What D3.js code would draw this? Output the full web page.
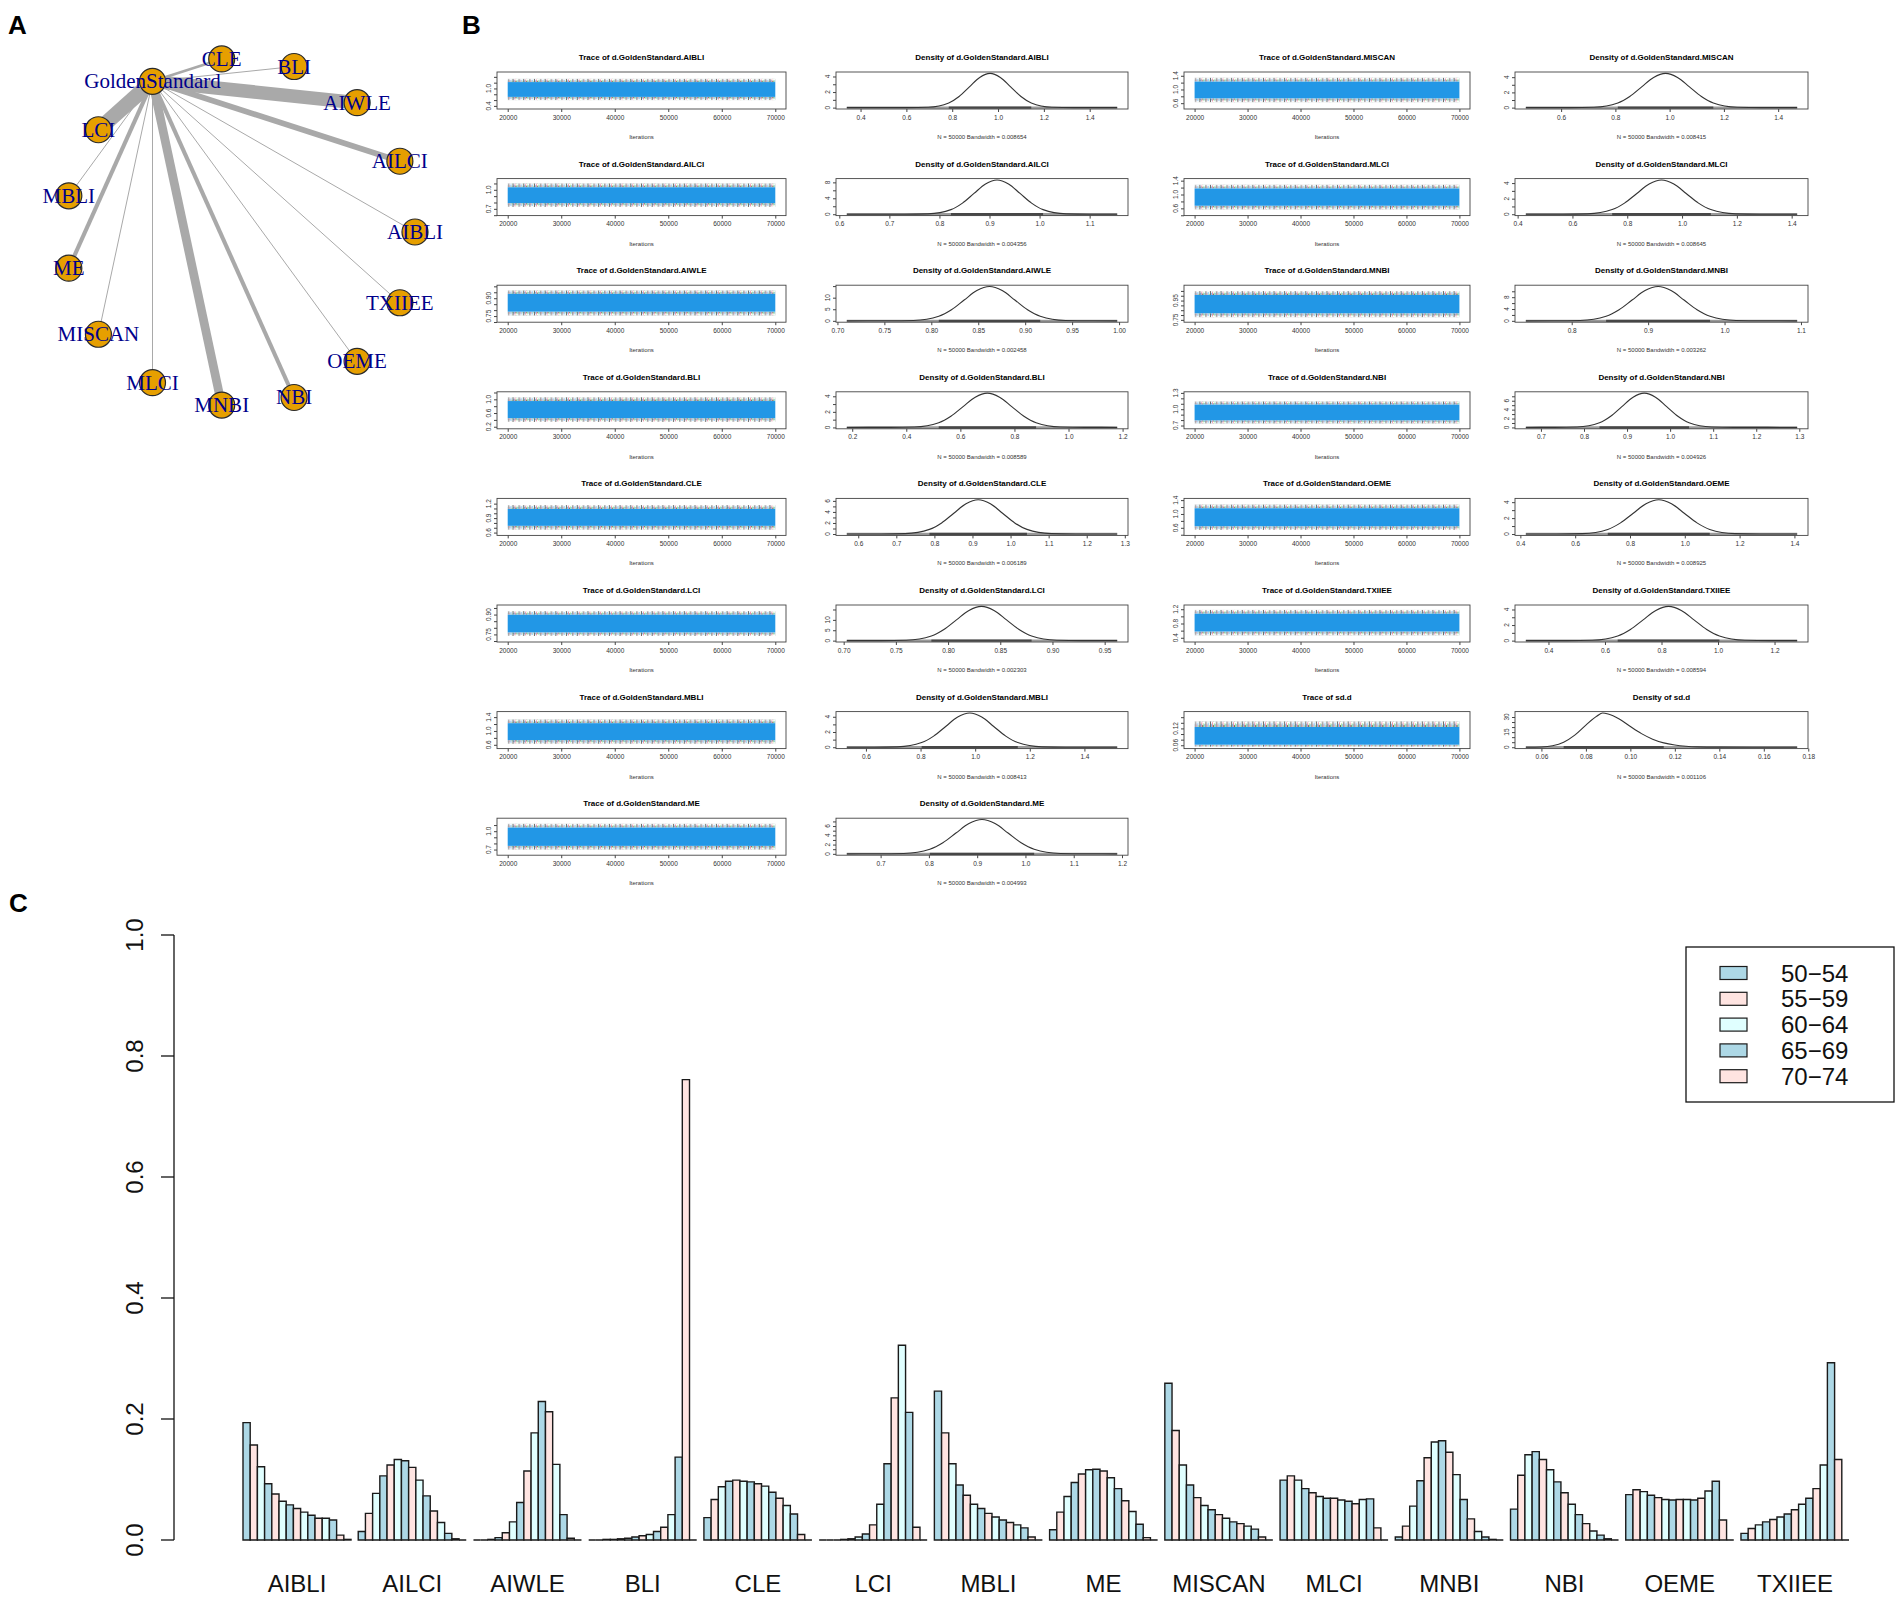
<!DOCTYPE html>
<html>
<head>
<meta charset="utf-8">
<script src="https://cdn.jsdelivr.net/npm/d3@7/dist/d3.min.js"></script>
<style>
body { margin: 0; background: #fff; }
text { font-family: "Liberation Sans", Arial, sans-serif; }
</style>
</head>
<body>
<svg id="fig" width="1902" height="1604"></svg>
<script>
/*	Data: network (panel A) ---------------------------------------------------*/
var nodeNames = ["AIBLI","AILCI","AIWLE","BLI","CLE","GoldenStandard","LCI","MBLI","ME","MISCAN","MLCI","MNBI","NBI","OEME","TXIIEE"];
var edgeTargets = ["AIBLI","AILCI","AIWLE","BLI","CLE","LCI","MBLI","ME","MISCAN","MLCI","MNBI","NBI","OEME","TXIIEE"];
var edgeStudies = [1,4,9,1,2,10,1,3,1,1,6,3,1,1];

/*	Data: MCMC diagnostics (panel B) ------------------------------------------*/
var mcmcParams = ["d.GoldenStandard.AIBLI","d.GoldenStandard.AILCI","d.GoldenStandard.AIWLE","d.GoldenStandard.BLI",
	"d.GoldenStandard.CLE","d.GoldenStandard.LCI","d.GoldenStandard.MBLI","d.GoldenStandard.ME",
	"d.GoldenStandard.MISCAN","d.GoldenStandard.MLCI","d.GoldenStandard.MNBI","d.GoldenStandard.NBI",
	"d.GoldenStandard.OEME","d.GoldenStandard.TXIIEE","sd.d"];
var bandwidths = ["0.008654","0.004356","0.002458","0.008589","0.006189","0.002303","0.008413","0.004993",
	"0.008415","0.008645","0.003262","0.004926","0.008925","0.008594","0.001106"];
var sampleRange = [[0.34,1.52],[0.615,1.155],[0.71,0.998],[0.18,1.18],[0.57,1.28],[0.703,0.962],[0.53,1.52],[0.63,1.19],
	[0.47,1.47],[0.43,1.42],[0.74,1.095],[0.665,1.295],[0.42,1.41],[0.32,1.28],[0.053,0.175]];
var traceBand = [[0.71,1.22],[0.79,1.04],[0.787,0.937],[0.45,0.95],[0.74,1.09],[0.765,0.899],[0.735,1.225],[0.76,1.06],
	[0.74,1.23],[0.675,1.175],[0.818,1.008],[0.795,1.085],[0.645,1.165],[0.575,1.075],[0.062,0.125]];
var traceSpike = [[0.60,1.33],[0.73,1.10],[0.755,0.965],[0.34,1.06],[0.66,1.17],[0.738,0.926],[0.63,1.33],[0.70,1.12],
	[0.63,1.34],[0.57,1.28],[0.778,1.048],[0.738,1.142],[0.54,1.27],[0.47,1.18],[0.055,0.145]];
var iterTicks = ["20000","30000","40000","50000","60000","70000"];
var traceYTicks = [[0.4,0.6,0.8,1.0,1.2,1.4],[0.6,0.7,0.8,0.9,1.0,1.1],[0.70,0.75,0.80,0.85,0.90,0.95,1.00],[0.2,0.4,0.6,0.8,1.0,1.2],
	[0.6,0.7,0.8,0.9,1.0,1.1,1.2],[0.70,0.75,0.80,0.85,0.90,0.95],[0.6,0.8,1.0,1.2,1.4],[0.7,0.8,0.9,1.0,1.1],
	[0.6,0.8,1.0,1.2,1.4],[0.4,0.6,0.8,1.0,1.2,1.4],[0.75,0.80,0.85,0.90,0.95,1.00,1.05],[0.7,0.8,0.9,1.0,1.1,1.2,1.3],
	[0.4,0.6,0.8,1.0,1.2,1.4],[0.4,0.6,0.8,1.0,1.2],[0.06,0.08,0.10,0.12,0.14,0.16]];
var traceYLabels = [["0.4","1.0"],["0.7","1.0"],["0.75","0.90"],["0.2","0.6","1.0"],["0.6","0.9","1.2"],["0.75","0.90"],
	["0.6","1.0","1.4"],["0.7","1.0"],["0.6","1.0","1.4"],["0.6","1.0","1.4"],["0.75","0.95"],["0.7","1.0","1.3"],
	["0.6","1.0","1.4"],["0.4","0.8","1.2"],["0.06","0.12"]];
var densXTicks = [["0.4","0.6","0.8","1.0","1.2","1.4"],["0.6","0.7","0.8","0.9","1.0","1.1"],
	["0.70","0.75","0.80","0.85","0.90","0.95","1.00"],["0.2","0.4","0.6","0.8","1.0","1.2"],
	["0.6","0.7","0.8","0.9","1.0","1.1","1.2","1.3"],["0.70","0.75","0.80","0.85","0.90","0.95"],
	["0.6","0.8","1.0","1.2","1.4"],["0.7","0.8","0.9","1.0","1.1","1.2"],["0.6","0.8","1.0","1.2","1.4"],
	["0.4","0.6","0.8","1.0","1.2","1.4"],["0.8","0.9","1.0","1.1"],["0.7","0.8","0.9","1.0","1.1","1.2","1.3"],
	["0.4","0.6","0.8","1.0","1.2","1.4"],["0.4","0.6","0.8","1.0","1.2"],["0.06","0.08","0.10","0.12","0.14","0.16","0.18"]];
var densYTicks = [[0,1,2,3,4],[0,2,4,6,8],[0,5,10,15],[0,1,2,3,4],[0,1,2,3,4,5,6],[0,5,10,15],[0,1,2,3,4],[0,1,2,3,4,5,6,7],
	[0,1,2,3,4],[0,1,2,3,4],[0,2,4,6,8,10],[0,1,2,3,4,5,6,7],[0,1,2,3,4],[0,1,2,3,4],[0,5,10,15,20,25,30]];
var densYLabels = [["0","2","4"],["0","4","8"],["0","5","10"],["0","2","4"],["0","2","4","6"],["0","5","10"],["0","2","4"],
	["0","2","4","6"],["0","2","4"],["0","2","4"],["0","4","8"],["0","2","4","6"],["0","2","4"],["0","2","4"],["0","15","30"]];

/*	Density curves: [value, density] ------------------------------------------*/
var densAIBLI = [[0.34,0],[0.6,0.003],[0.695,0.05],[0.785,0.6],[0.83,1.43],[0.875,2.67],[0.92,3.88],[0.965,4.4],[1.01,3.88],[1.055,2.67],[1.1,1.43],[1.145,0.6],[1.235,0.05],[1.33,0.003],[1.52,0]];
var densAILCI = [[0.615,0],[0.73,0.005],[0.777,0.1],[0.823,1.16],[0.846,2.79],[0.869,5.22],[0.892,7.59],[0.915,8.6],[0.938,7.59],[0.961,5.22],[0.984,2.79],[1.007,1.16],[1.053,0.1],[1.1,0.005],[1.155,0]];
var densAIWLE = [[0.71,0],[0.755,0.008],[0.781,0.16],[0.808,2.0],[0.8215,4.8],[0.835,8.98],[0.8485,13.06],[0.862,14.8],[0.8755,13.06],[0.889,8.98],[0.9025,4.8],[0.916,2.0],[0.943,0.16],[0.97,0.008],[0.998,0]];
var densBLI = [[0.18,0],[0.34,0.003],[0.43,0.05],[0.52,0.6],[0.565,1.43],[0.61,2.67],[0.655,3.88],[0.70,4.4],[0.745,3.88],[0.79,2.67],[0.835,1.43],[0.88,0.6],[0.97,0.05],[1.06,0.003],[1.18,0]];
var densCLE = [[0.57,0],[0.66,0.004],[0.723,0.07],[0.787,0.84],[0.819,2.01],[0.851,3.76],[0.883,5.47],[0.915,6.2],[0.947,5.47],[0.979,3.76],[1.011,2.01],[1.043,0.84],[1.107,0.07],[1.17,0.004],[1.28,0]];
var densLCI = [[0.703,0],[0.736,0.01],[0.76,0.18],[0.784,2.23],[0.796,5.36],[0.808,10.0],[0.82,14.56],[0.832,16.5],[0.844,14.56],[0.856,10.0],[0.868,5.36],[0.88,2.23],[0.904,0.18],[0.928,0.01],[0.962,0]];
var densMBLI = [[0.53,0],[0.63,0.003],[0.716,0.05],[0.804,0.61],[0.848,1.46],[0.892,2.73],[0.936,3.97],[0.98,4.5],[1.024,3.97],[1.068,2.73],[1.112,1.46],[1.156,0.61],[1.244,0.05],[1.33,0.003],[1.52,0]];
var densME = [[0.63,0],[0.694,0.004],[0.748,0.08],[0.802,1.0],[0.829,2.4],[0.856,4.49],[0.883,6.53],[0.91,7.4],[0.937,6.53],[0.964,4.49],[0.991,2.4],[1.018,1.0],[1.072,0.08],[1.126,0.004],[1.19,0]];
var densMISCAN = [[0.47,0],[0.633,0.003],[0.721,0.05],[0.809,0.61],[0.853,1.46],[0.897,2.73],[0.941,3.97],[0.985,4.5],[1.029,3.97],[1.073,2.73],[1.117,1.46],[1.161,0.61],[1.249,0.05],[1.337,0.003],[1.47,0]];
var densMLCI = [[0.43,0],[0.565,0.003],[0.655,0.05],[0.745,0.6],[0.79,1.43],[0.835,2.67],[0.88,3.88],[0.925,4.4],[0.97,3.88],[1.015,2.67],[1.06,1.43],[1.105,0.6],[1.195,0.05],[1.285,0.003],[1.42,0]];
var densMNBI = [[0.74,0],[0.777,0.007],[0.811,0.13],[0.845,1.57],[0.862,3.77],[0.879,7.04],[0.896,10.24],[0.913,11.6],[0.93,10.24],[0.947,7.04],[0.964,3.77],[0.981,1.57],[1.015,0.13],[1.049,0.007],[1.095,0]];
var densNBI = [[0.665,0],[0.732,0.005],[0.784,0.085],[0.836,1.04],[0.862,2.5],[0.888,4.67],[0.914,6.8],[0.94,7.7],[0.966,6.8],[0.992,4.67],[1.018,2.5],[1.044,1.04],[1.096,0.085],[1.148,0.005],[1.295,0]];
var densOEME = [[0.42,0],[0.533,0.003],[0.626,0.05],[0.719,0.58],[0.7655,1.4],[0.812,2.61],[0.8585,3.79],[0.905,4.3],[0.9515,3.79],[0.998,2.61],[1.0445,1.4],[1.091,0.58],[1.184,0.05],[1.277,0.003],[1.41,0]];
var densTXIIEE = [[0.32,0],[0.465,0.003],[0.555,0.05],[0.645,0.6],[0.69,1.43],[0.735,2.67],[0.78,3.88],[0.825,4.4],[0.87,3.88],[0.915,2.67],[0.96,1.43],[1.005,0.6],[1.095,0.05],[1.185,0.003],[1.28,0]];
var densSD = [[0.053,0],[0.06,0.3],[0.065,1.5],[0.07,5],[0.075,12],[0.08,22],[0.085,31],[0.0875,34],[0.09,33],[0.095,28],[0.10,20.5],[0.105,13.5],[0.11,8],[0.115,4.3],[0.12,2.2],[0.125,1.0],[0.13,0.4],[0.14,0.1],[0.155,0.01],[0.175,0]];
var densCurves = [densAIBLI,densAILCI,densAIWLE,densBLI,densCLE,densLCI,densMBLI,densME,
	densMISCAN,densMLCI,densMNBI,densNBI,densOEME,densTXIIEE,densSD];

/*	Data: rank probabilities (panel C) -----------------------------------------*/
var treatments = ["AIBLI","AILCI","AIWLE","BLI","CLE","LCI","MBLI","ME","MISCAN","MLCI","MNBI","NBI","OEME","TXIIEE"];
var ranks = [1,2,3,4,5,6,7,8,9,10,11,12,13,14,15];
var probAIBLI  = [0.194,0.157,0.121,0.093,0.076,0.064,0.058,0.052,0.046,0.041,0.036,0.036,0.033,0.008,0.001];
var probAILCI  = [0.014,0.044,0.077,0.106,0.124,0.133,0.131,0.120,0.099,0.073,0.048,0.029,0.011,0.002,0.000];
var probAIWLE  = [0.000,0.000,0.001,0.004,0.012,0.030,0.062,0.114,0.177,0.229,0.212,0.125,0.042,0.003,0.000];
var probBLI    = [0.000,0.000,0.001,0.001,0.002,0.003,0.005,0.007,0.009,0.014,0.021,0.042,0.137,0.761,0.000];
var probCLE    = [0.037,0.067,0.088,0.097,0.099,0.097,0.096,0.093,0.089,0.079,0.069,0.057,0.043,0.009,0.000];
var probLCI    = [0.000,0.000,0.000,0.001,0.002,0.005,0.010,0.025,0.059,0.126,0.235,0.322,0.211,0.021,0.000];
var probMBLI   = [0.246,0.177,0.126,0.091,0.074,0.059,0.052,0.044,0.038,0.033,0.029,0.025,0.020,0.005,0.000];
var probME     = [0.017,0.046,0.072,0.095,0.109,0.116,0.117,0.114,0.103,0.085,0.065,0.047,0.026,0.004,0.000];
var probMISCAN = [0.259,0.181,0.124,0.091,0.070,0.057,0.050,0.042,0.036,0.030,0.027,0.023,0.018,0.005,0.000];
var probMLCI   = [0.099,0.106,0.099,0.085,0.078,0.072,0.069,0.069,0.066,0.064,0.060,0.067,0.068,0.020,0.000];
var probMNBI   = [0.005,0.023,0.056,0.098,0.136,0.162,0.164,0.145,0.108,0.067,0.035,0.014,0.005,0.001,0.000];
var probNBI    = [0.051,0.107,0.141,0.146,0.133,0.116,0.096,0.078,0.059,0.042,0.027,0.015,0.008,0.002,0.000];
var probOEME   = [0.075,0.083,0.080,0.074,0.070,0.067,0.066,0.067,0.067,0.066,0.069,0.081,0.097,0.033,0.000];
var probTXIIEE = [0.011,0.019,0.025,0.030,0.034,0.038,0.043,0.050,0.059,0.069,0.085,0.124,0.293,0.133,0.000];
var rankTable = [probAIBLI,probAILCI,probAIWLE,probBLI,probCLE,probLCI,probMBLI,probME,
	probMISCAN,probMLCI,probMNBI,probNBI,probOEME,probTXIIEE];
var probTicks = ["0.0","0.2","0.4","0.6","0.8","1.0"];
var legendLabels = ["50\u221254","55\u221259","60\u221264","65\u221269","70\u221274"];
var barColors = ["#ADD8E6","#FFE4E1","#E0FFFF"];

var svg = d3.select("#fig");

/*	Panel letters -------------------------------------------------------------*/
svg.selectAll("text.letter")
	.data([["A",8,34],["B",462,34],["C",9,912]])
	.enter().append("text")
	.attr("class","letter")
	.attr("x",function(d){ return d[1]; })
	.attr("y",function(d){ return d[2]; })
	.attr("font-size","26px").attr("font-weight","bold")
	.text(function(d){ return d[0]; });

/*	Panel A: star network on a circle -----------------------------------------*/
var gA = svg.append("g");
var angle = d3.scaleLinear().domain([0, nodeNames.length]).range([0, 2*Math.PI]);
var nodePos = {};
nodeNames.forEach(function(n,i){
	nodePos[n] = [240 + 175*Math.cos(angle(i)), 232 - 174*Math.sin(angle(i))];
});
var edgeW = d3.scaleLinear().domain([1,10]).range([1,15]);
gA.selectAll("line.edge")
	.data(edgeTargets)
	.enter().append("line")
	.attr("class","edge")
	.attr("x1",nodePos["GoldenStandard"][0]).attr("y1",nodePos["GoldenStandard"][1])
	.attr("x2",function(d){ return nodePos[d][0]; })
	.attr("y2",function(d){ return nodePos[d][1]; })
	.attr("stroke","#A9A9A9")
	.attr("stroke-width",function(d,i){ return edgeW(edgeStudies[i]); });
gA.selectAll("circle")
	.data(nodeNames)
	.enter().append("circle")
	.attr("cx",function(d){ return nodePos[d][0]; })
	.attr("cy",function(d){ return nodePos[d][1]; })
	.attr("r",13)
	.attr("fill","#E69F00")
	.attr("stroke","#2a2a2a").attr("stroke-width",1.2);
gA.selectAll("text.node")
	.data(nodeNames)
	.enter().append("text")
	.attr("class","node")
	.attr("x",function(d){ return nodePos[d][0]; })
	.attr("y",function(d){ return nodePos[d][1] + 7; })
	.attr("text-anchor","middle")
	.style("font-family","'Liberation Serif', 'Times New Roman', serif")
	.attr("font-size","21px")
	.attr("fill","#00008B")
	.text(function(d){ return d; });

/*	Panel B: trace and density plots ------------------------------------------*/
var defs = svg.append("defs");
/*	jagged chain excursions at the band edges: black, red, green, blue chains */
var spikeLines = [[0.002,0.95,"#000"],[0.006,0.45,"#DF536B"],[0.010,0.75,"#2297E6"],[0.014,0.30,"#61D04F"],
	[0.018,1.00,"#000"],[0.022,0.55,"#2297E6"],[0.026,0.85,"#DF536B"],[0.030,0.35,"#000"],
	[0.034,0.65,"#61D04F"],[0.038,0.50,"#2297E6"]];
["spikeTop","spikeBottom"].forEach(function(id){
	var p = defs.append("pattern").attr("id",id)
		.attr("patternUnits","objectBoundingBox").attr("patternContentUnits","objectBoundingBox")
		.attr("width",0.04).attr("height",1);
	spikeLines.forEach(function(s){
		p.append("rect").attr("x",s[0]).attr("width",0.0026)
			.attr("y", id === "spikeTop" ? 1 - s[1] : 0).attr("height",s[1])
			.attr("fill",s[2]).attr("opacity",0.85);
	});
});

var boxCols = [[497,786],[836,1128],[1184,1470],[1515,1808]];
var smallFont = "6.5px";

var drawTrace = function(i, cx, T) {
	var x0 = boxCols[cx][0], x1 = boxCols[cx][1];
	var yT = T + 15, yB = T + 52;
	var pad = (sampleRange[i][1] - sampleRange[i][0]) * 0.04;
	var y = d3.scaleLinear().domain([sampleRange[i][0]-pad, sampleRange[i][1]+pad]).range([yB, yT]);
	var x = d3.scaleLinear().domain([18000, 72000]).range([x0, x1]);
	var g = svg.append("g");
	g.append("text").attr("x",(x0+x1)/2).attr("y",T+3)
		.attr("text-anchor","middle").attr("font-size","8px").attr("font-weight","bold")
		.text("Trace of " + mcmcParams[i]);
	/*	noisy edges of the chains, then the dense blue core -------------------*/
	g.append("rect").attr("x",x(20000)).attr("width",x(70000)-x(20000))
		.attr("y",y(traceSpike[i][1])).attr("height",y(traceBand[i][1])-y(traceSpike[i][1]))
		.attr("fill","url(#spikeTop)");
	g.append("rect").attr("x",x(20000)).attr("width",x(70000)-x(20000))
		.attr("y",y(traceBand[i][0])).attr("height",y(traceSpike[i][0])-y(traceBand[i][0]))
		.attr("fill","url(#spikeBottom)");
	g.append("rect").attr("x",x(20000)).attr("width",x(70000)-x(20000))
		.attr("y",y(traceBand[i][1])).attr("height",y(traceBand[i][0])-y(traceBand[i][1]))
		.attr("fill","#2297E6");
	g.append("rect").attr("x",x0).attr("y",yT).attr("width",x1-x0).attr("height",yB-yT)
		.attr("fill","none").attr("stroke","#444").attr("stroke-width",0.9);
	var xa = g.append("g").attr("transform","translate(0," + yB + ")")
		.call(d3.axisBottom(x).tickValues(iterTicks.map(Number)).tickSize(3).tickPadding(3).tickFormat(d3.format("d")));
	xa.select(".domain").remove();
	xa.selectAll("text").attr("font-size",smallFont).attr("fill","#333");
	xa.selectAll("line").attr("stroke","#444");
	var ya = g.append("g").attr("transform","translate(" + x0 + ",0)")
		.call(d3.axisLeft(y).tickValues(traceYTicks[i]).tickSize(3).tickFormat(""));
	ya.select(".domain").remove();
	ya.selectAll("line").attr("stroke","#444");
	g.selectAll("text.ylab").data(traceYLabels[i]).enter().append("text")
		.attr("transform",function(d){ return "translate(" + (x0-6) + "," + y(+d) + ")rotate(-90)"; })
		.attr("text-anchor","middle").attr("font-size",smallFont).attr("fill","#333")
		.text(function(d){ return d; });
	g.append("text").attr("x",(x(20000)+x(70000))/2).attr("y",T+82)
		.attr("text-anchor","middle").attr("font-size","6px").attr("fill","#333")
		.text("Iterations");
};

var drawDensity = function(i, cx, T) {
	var x0 = boxCols[cx][0], x1 = boxCols[cx][1];
	var yT = T + 15, yB = T + 52;
	var r = sampleRange[i];
	var pad = (r[1] - r[0]) * 0.04;
	var x = d3.scaleLinear().domain([r[0]-pad, r[1]+pad]).range([x0, x1]);
	var peak = d3.max(densCurves[i], function(d){ return d[1]; });
	var y = d3.scaleLinear().domain([-0.04*peak, 1.04*peak]).range([yB, yT]);
	var g = svg.append("g");
	g.append("text").attr("x",(x0+x1)/2).attr("y",T+3)
		.attr("text-anchor","middle").attr("font-size","8px").attr("font-weight","bold")
		.text("Density of " + mcmcParams[i]);
	/*	rug of the samples along zero -----------------------------------------*/
	var core = densCurves[i].filter(function(d){ return d[1] > 0.08*peak; });
	g.append("line").attr("x1",x(r[0])).attr("x2",x(r[1])).attr("y1",y(0)).attr("y2",y(0))
		.attr("stroke","#9a9a9a").attr("stroke-width",2.4);
	g.append("line").attr("x1",x(core[0][0])).attr("x2",x(core[core.length-1][0]))
		.attr("y1",y(0)).attr("y2",y(0))
		.attr("stroke","#333").attr("stroke-width",2.4).attr("opacity",0.8);
	g.append("path").datum(densCurves[i])
		.attr("d", d3.line().x(function(d){ return x(d[0]); }).y(function(d){ return y(d[1]); }).curve(d3.curveMonotoneX))
		.attr("fill","none").attr("stroke","#333").attr("stroke-width",1.1);
	g.append("rect").attr("x",x0).attr("y",yT).attr("width",x1-x0).attr("height",yB-yT)
		.attr("fill","none").attr("stroke","#444").attr("stroke-width",0.9);
	var xa = g.append("g").attr("transform","translate(0," + yB + ")")
		.call(d3.axisBottom(x).tickValues(densXTicks[i].map(Number)).tickSize(3).tickPadding(3)
			.tickFormat(function(d,k){ return densXTicks[i][k]; }));
	xa.select(".domain").remove();
	xa.selectAll("text").attr("font-size",smallFont).attr("fill","#333");
	xa.selectAll("line").attr("stroke","#444");
	var ya = g.append("g").attr("transform","translate(" + x0 + ",0)")
		.call(d3.axisLeft(y).tickValues(densYTicks[i]).tickSize(3).tickFormat(""));
	ya.select(".domain").remove();
	ya.selectAll("line").attr("stroke","#444");
	g.selectAll("text.ylab").data(densYLabels[i]).enter().append("text")
		.attr("transform",function(d){ return "translate(" + (x0-6) + "," + y(+d) + ")rotate(-90)"; })
		.attr("text-anchor","middle").attr("font-size",smallFont).attr("fill","#333")
		.text(function(d){ return d; });
	g.append("text").attr("x",(x0+x1)/2).attr("y",T+82)
		.attr("text-anchor","middle").attr("font-size","6px").attr("fill","#333")
		.text("N = 50000   Bandwidth = " + bandwidths[i]);
};

mcmcParams.forEach(function(p,i){
	var pair = i < 8 ? 0 : 1;
	var row = i < 8 ? i : i - 8;
	var T = 57 + row*106.6;
	drawTrace(i, pair*2, T);
	drawDensity(i, pair*2 + 1, T);
});

/*	Panel C: rank probability bars ---------------------------------------------*/
var gC = svg.append("g");
var xC = d3.scaleLinear().domain([1, 224]).range([243, 1849]);
var yC = d3.scaleLinear().domain([0, 1]).range([1540, 935]);
var bars = [];
rankTable.forEach(function(probs, g){
	probs.forEach(function(p, k){ bars.push({g:g, k:k, p:p}); });
});
gC.selectAll("path.bar")
	.data(bars)
	.enter().append("path")
	.attr("class","bar")
	.attr("d",function(d){
		var u = d.g*16 + 1 + d.k;
		return "M" + xC(u) + "," + yC(0) + "V" + yC(d.p) + "H" + xC(u+1) + "V" + yC(0) + "Z";
	})
	.attr("fill",function(d){ return barColors[d.k % barColors.length]; })
	.attr("stroke","#1a1a1a").attr("stroke-width",1.4);
gC.selectAll("text.grp")
	.data(treatments)
	.enter().append("text")
	.attr("class","grp")
	.attr("x",function(d,g){ return (xC(g*16+1) + xC(g*16+1+ranks.length))/2; })
	.attr("y",1592)
	.attr("text-anchor","middle").attr("font-size","24px").attr("fill","#111")
	.text(function(d){ return d; });
/*	Y axis ----------------------------------------------------------------------*/
gC.append("line").attr("x1",174).attr("x2",174).attr("y1",yC(0)).attr("y2",yC(1))
	.attr("stroke","#111").attr("stroke-width",1.3);
gC.selectAll("line.tick").data(probTicks).enter().append("line")
	.attr("x1",161).attr("x2",174)
	.attr("y1",function(d){ return yC(+d); }).attr("y2",function(d){ return yC(+d); })
	.attr("stroke","#111").attr("stroke-width",1.3);
gC.selectAll("text.tick").data(probTicks).enter().append("text")
	.attr("transform",function(d){ return "translate(143," + yC(+d) + ")rotate(-90)"; })
	.attr("text-anchor","middle").attr("font-size","24px").attr("fill","#111")
	.text(function(d){ return d; });
/*	Legend ----------------------------------------------------------------------*/
gC.append("rect").attr("x",1686).attr("y",947).attr("width",208).attr("height",155)
	.attr("fill","#fff").attr("stroke","#111").attr("stroke-width",1.3);
var leg = gC.selectAll("g.leg").data(legendLabels).enter().append("g")
	.attr("class","leg")
	.attr("transform",function(d,i){ return "translate(0," + (973 + i*25.8) + ")"; });
leg.append("rect").attr("x",1720).attr("y",-6.5).attr("width",27).attr("height",13)
	.attr("fill",function(d,i){ return barColors[i % barColors.length]; })
	.attr("stroke","#1a1a1a").attr("stroke-width",1.2);
leg.append("text").attr("x",1781).attr("y",8.5).attr("font-size","24px").attr("fill","#111")
	.text(function(d){ return d; });
</script>
</body>
</html>
